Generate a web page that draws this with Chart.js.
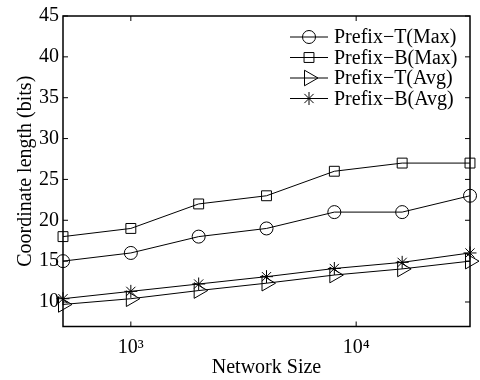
<!DOCTYPE html>
<html>
<head>
<meta charset="utf-8">
<script src="https://cdn.jsdelivr.net/npm/chart.js@4/dist/chart.umd.min.js"></script>
<style>
  html, body { margin: 0; padding: 0; background: #fff; }
  #wrap { width: 480px; height: 380px; }
</style>
</head>
<body>
<div id="wrap"><canvas id="chart"></canvas></div>
<script>
const networkSizes = [500, 1000, 2000, 4000, 8000, 16000, 32000];
const prefixTMax = [15, 16, 18, 19, 21, 21, 23];
const prefixBMax = [18, 19, 22, 23, 26, 27, 27];
const prefixTAvg = [9.7, 10.4, 11.4, 12.3, 13.3, 14.05, 15.0];
const prefixBAvg = [10.4, 11.3, 12.2, 13.1, 14.1, 14.85, 16.0];

const xTicks = [1000, 10000];
const xTickLabels = ["10\u00B3", "10\u2074"];
const yTicks = [10, 15, 20, 25, 30, 35, 40, 45];

const FONT = "'Liberation Serif', 'Times New Roman', serif";
const FONT_SIZE = 20;
Chart.defaults.color = "#000";
Chart.defaults.font.family = FONT;

function series(label, values, style, radius, rotation) {
  return {
    label: label,
    data: networkSizes.map((s, i) => ({ x: s, y: values[i] })),
    borderColor: "#000",
    borderWidth: 1,
    pointStyle: style,
    pointRadius: radius,
    pointHoverRadius: radius,
    pointRotation: rotation || 0,
    pointBorderColor: "#000",
    pointBackgroundColor: "rgba(0,0,0,0)",
    pointBorderWidth: 1,
    tension: 0,
    clip: false,
  };
}

const datasets = [
  series("Prefix\u2212T(Max)", prefixTMax, "circle", 6.5),
  series("Prefix\u2212B(Max)", prefixBMax, "rect", 7),
  series("Prefix\u2212T(Avg)", prefixTAvg, "triangle", 9, 90),
  series("Prefix\u2212B(Avg)", prefixBAvg, "star", 6.5),
];

// matlab style box, inward ticks and the legend inside the plot
const boxPlugin = {
  id: "box",
  afterDraw(chart) {
    const { ctx, chartArea: a, scales } = chart;
    ctx.save();
    ctx.strokeStyle = "#000";
    ctx.lineWidth = 1.5;
    ctx.strokeRect(a.left, a.top, a.right - a.left, a.bottom - a.top);

    ctx.beginPath();
    yTicks.forEach((v) => {
      const y = scales.y.getPixelForValue(v);
      ctx.moveTo(a.left, y);
      ctx.lineTo(a.left + 5, y);
      ctx.moveTo(a.right, y);
      ctx.lineTo(a.right - 5, y);
    });
    xTicks.forEach((v) => {
      const x = scales.x.getPixelForValue(v);
      ctx.moveTo(x, a.bottom);
      ctx.lineTo(x, a.bottom - 5);
      ctx.moveTo(x, a.top);
      ctx.lineTo(x, a.top + 5);
    });
    ctx.lineWidth = 1;
    ctx.stroke();

    // legend
    const lx = a.right - 180;
    ctx.font = FONT_SIZE + "px " + FONT;
    ctx.textBaseline = "middle";
    chart.data.datasets.forEach((ds, i) => {
      const y = a.top + 21 + i * 20.5;
      ctx.beginPath();
      ctx.moveTo(lx, y);
      ctx.lineTo(lx + 38, y);
      ctx.lineWidth = 1;
      ctx.stroke();
      ctx.fillStyle = "rgba(0,0,0,0)";
      Chart.helpers.drawPoint(ctx, {
        pointStyle: ds.pointStyle,
        radius: ds.pointRadius,
        rotation: ds.pointRotation,
        borderWidth: 1,
      }, lx + 19, y);
      ctx.fillStyle = "#000";
      ctx.fillText(ds.label, lx + 44, y + 1);
    });
    ctx.restore();
  },
};

new Chart(document.getElementById("chart"), {
  type: "line",
  data: { datasets: datasets },
  options: {
    responsive: true,
    maintainAspectRatio: false,
    animation: false,
    layout: { padding: { top: 13, right: 8, left: 0, bottom: 0 } },
    plugins: {
      legend: { display: false },
      tooltip: { enabled: false },
    },
    scales: {
      x: {
        type: "logarithmic",
        min: 500,
        max: 32000,
        grid: { display: false, drawTicks: false },
        border: { display: false },
        afterBuildTicks: (scale) => {
          scale.ticks = xTicks.map((v) => ({ value: v }));
        },
        afterFit: (scale) => { scale.height = 53.5; },
        ticks: {
          autoSkip: false,
          maxRotation: 0,
          padding: 9,
          font: { size: FONT_SIZE },
          callback: (v) => xTickLabels[xTicks.indexOf(v)],
        },
        title: {
          display: true,
          text: "Network Size",
          font: { size: FONT_SIZE },
          padding: { top: 0, bottom: 0 },
        },
      },
      y: {
        min: 7,
        max: 45,
        grid: { display: false, drawTicks: false },
        border: { display: false },
        afterBuildTicks: (scale) => {
          scale.ticks = yTicks.map((v) => ({ value: v }));
        },
        afterFit: (scale) => { scale.width = 63; },
        ticks: {
          padding: 4,
          font: { size: FONT_SIZE },
        },
        title: {
          display: true,
          text: "Coordinate length (bits)",
          font: { size: FONT_SIZE },
          padding: { top: 14, bottom: 0 },
        },
      },
    },
  },
  plugins: [boxPlugin],
});
</script>
</body>
</html>
